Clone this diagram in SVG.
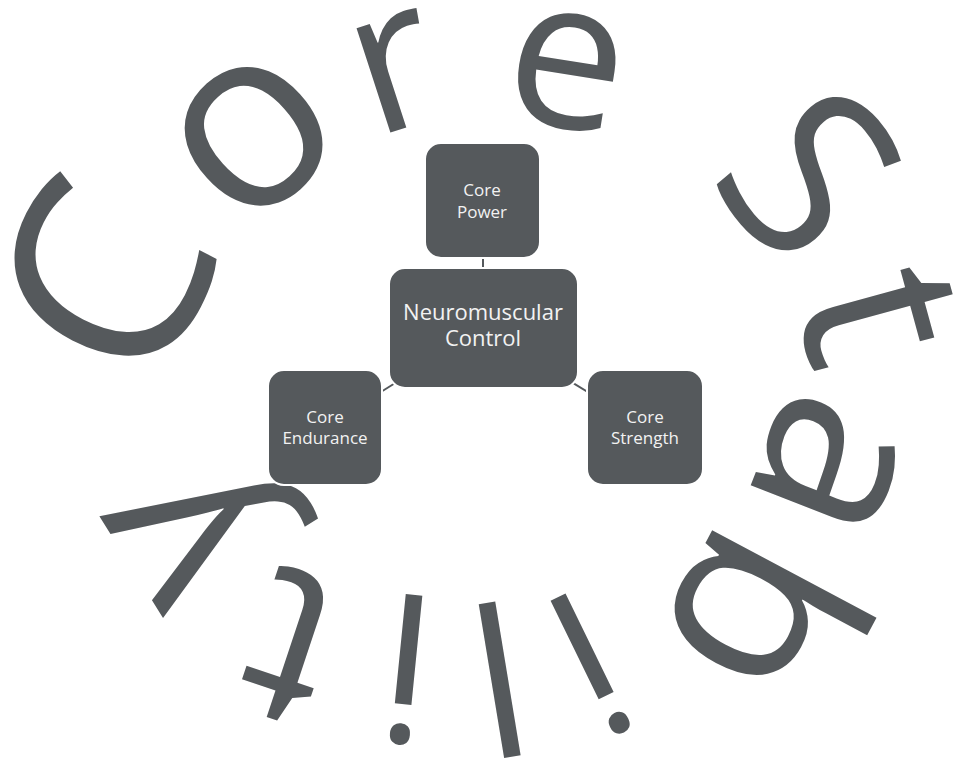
<svg xmlns="http://www.w3.org/2000/svg" width="955" height="759" viewBox="0 0 955 759">
  <style>
    .big { font-family: "Open Sans", "Liberation Sans", sans-serif; font-size: 235px; fill: #55595c; }
    .box { fill: #55595c; stroke: #ffffff; stroke-width: 2; }
    .lbl { font-family: "Open Sans", "Liberation Sans", sans-serif; fill: #f2f2f2; text-anchor: middle; }
    .s { font-size: 17px; }
    .m { font-size: 22px; }
    .conn line { stroke: #55595c; stroke-width: 2; }
  </style>
  <rect width="955" height="759" fill="#ffffff"/>
  <g id="title">
    <text class="big"
      x="151 242.3 373.7 499.1 640 704.8 792.6 792.3 722 581.2 512.5 439.7 350.6 272"
      y="399 238.4 137.9 117.3 110 178.8 295.8 379.2 511.8 585.7 598.8 597.6 588.5 550"
      rotate="-63 -42 -18 9 25 49.5 74.7 111.4 118 154 170.6 185.7 198.4 238"><tspan font-size="270">C</tspan><tspan font-size="255">o</tspan><tspan font-size="205">r</tspan><tspan font-size="210">e</tspan><tspan> St</tspan><tspan font-size="240">a</tspan><tspan font-size="245">b</tspan><tspan font-size="205">ili</tspan><tspan font-size="225">t</tspan><tspan font-size="240">y</tspan></text>
  </g>
  <g id="connectors" class="conn">
    <line x1="483" y1="200" x2="483" y2="328"/>
    <line x1="483" y1="328" x2="325" y2="427"/>
    <line x1="483" y1="328" x2="645" y2="427"/>
  </g>
  <g id="core-power">
    <rect class="box" x="425" y="143" width="115" height="115" rx="16"/>
    <text class="lbl s" x="482" y="196">Core</text>
    <text class="lbl s" x="482" y="218">Power</text>
  </g>
  <g id="neuromuscular-control">
    <rect class="box" x="389" y="268" width="189" height="120" rx="16"/>
    <text class="lbl m" x="483" y="320">Neuromuscular</text>
    <text class="lbl m" x="483" y="346">Control</text>
  </g>
  <g id="core-endurance">
    <rect class="box" x="268" y="370" width="114" height="115" rx="16"/>
    <text class="lbl s" x="325" y="423">Core</text>
    <text class="lbl s" x="325" y="444">Endurance</text>
  </g>
  <g id="core-strength">
    <rect class="box" x="587" y="370" width="116" height="115" rx="16"/>
    <text class="lbl s" x="645" y="423">Core</text>
    <text class="lbl s" x="645" y="444">Strength</text>
  </g>
</svg>
